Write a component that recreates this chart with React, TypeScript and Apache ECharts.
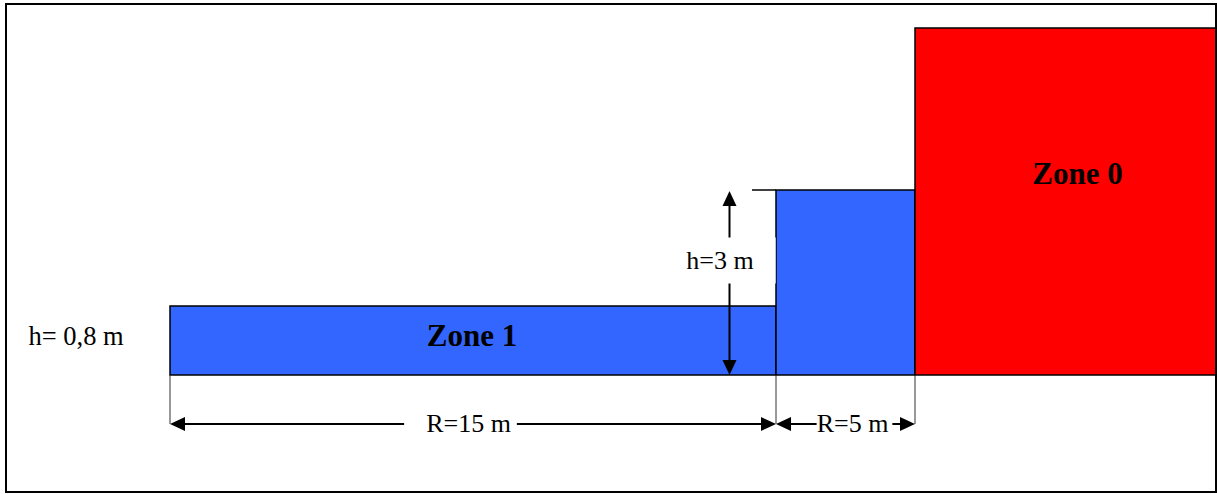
import React, { useEffect, useRef } from "react";
import * as echarts from "echarts";

// Schematic coordinates: x = horizontal distance along the ground (drawing units,
// 0 = start of Zone 1), y = height above ground (drawing units, 0 = ground level).
const zoneNames = ["Zone 1", "", "Zone 0"];
const zoneStart = [0, 606, 745];
const zoneEnd = [606, 745, 1046];
const zoneHeight = [69, 185, 347];

// Dimension arrows (from -> to) and their labels
const dimLabels = ["R=15 m", "R=5 m", "h=3 m"];
const dimFrom = [
  [0, -49],
  [606, -49],
  [559.5, 0],
];
const dimTo = [
  [606, -49],
  [745, -49],
  [559.5, 184],
];

// Extension (witness) lines
const extFrom = [
  [0, 0],
  [606, 0],
  [745, 0],
  [582, 185],
];
const extTo = [
  [0, -49],
  [606, -49],
  [745, -49],
  [606, 185],
];

// Text annotations
const textLabels = ["Zone 1", "Zone 0", "h= 0,8 m", "R=15 m", "R=5 m", "h=3 m"];
const textAnchor = [
  [302, 40],
  [907.5, 202],
  [-141.5, 39],
  [298.5, -48],
  [682.5, -48],
  [550, 114.5],
];

// styles (kept apart from data)
const zoneFill = ["#3366FF", "#3366FF", "#FF0000"];
const SERIF = '"Liberation Serif", "Times New Roman", serif';
const textStyles: any[] = [
  { bold: true, size: 31, align: "center" },
  { bold: true, size: 31, align: "center" },
  { bold: false, size: 26.5, align: "left" },
  { bold: false, size: 26, align: "center", bg: true, pad: [2, 6, 2, 22] },
  { bold: false, size: 26, align: "center", bg: true, pad: [2, 4, 2, 0] },
  { bold: false, size: 26, align: "center", bg: true, pad: [10, 22, 10, 5] },
];

export default function App() {
  const ref = useRef<HTMLDivElement>(null);

  useEffect(() => {
    document.body.style.margin = "0";
    const chart = echarts.init(ref.current!, null, { renderer: "svg" });

    const option: any = {
      animation: false,
      backgroundColor: "#ffffff",
      grid: { left: 0, right: 0, top: 0, bottom: 0, containLabel: false },
      xAxis: { type: "value", min: -170, max: 1047, show: false },
      yAxis: { type: "value", min: -119, max: 375, show: false },
      graphic: [
        {
          type: "rect",
          z: 100,
          shape: { x: 6, y: 4, width: 1210, height: 488 },
          style: { fill: "none", stroke: "#000", lineWidth: 2 },
          silent: true,
        },
      ],
      series: [
        {
          type: "custom",
          name: "zones",
          z: 1,
          silent: true,
          data: zoneStart.map((s, i) => [s, zoneEnd[i], zoneHeight[i]]),
          renderItem: (params: any, api: any) => {
            const i = params.dataIndex;
            const p0 = api.coord([api.value(0), api.value(2)]);
            const p1 = api.coord([api.value(1), 0]);
            return {
              type: "rect",
              shape: { x: p0[0], y: p0[1], width: p1[0] - p0[0], height: p1[1] - p0[1] },
              style: { fill: zoneFill[i], stroke: "#000", lineWidth: 1.5 },
            };
          },
        },
        {
          type: "custom",
          name: "extension",
          z: 2,
          silent: true,
          data: extFrom.map((f, i) => [f[0], f[1], extTo[i][0], extTo[i][1]]),
          renderItem: (params: any, api: any) => {
            const a = api.coord([api.value(0), api.value(1)]);
            const b = api.coord([api.value(2), api.value(3)]);
            const horizontal = Math.abs(a[1] - b[1]) < 0.5;
            return {
              type: "line",
              shape: { x1: a[0], y1: a[1], x2: b[0], y2: b[1] },
              style: { stroke: horizontal ? "#000" : "#333", lineWidth: horizontal ? 1.5 : 1 },
            };
          },
        },
        {
          type: "custom",
          name: "dimensions",
          z: 3,
          silent: true,
          data: dimFrom.map((f, i) => [f[0], f[1], dimTo[i][0], dimTo[i][1]]),
          renderItem: (params: any, api: any) => {
            const a = api.coord([api.value(0), api.value(1)]);
            const b = api.coord([api.value(2), api.value(3)]);
            const dx = b[0] - a[0];
            const dy = b[1] - a[1];
            const len = Math.hypot(dx, dy) || 1;
            const ux = dx / len;
            const uy = dy / len;
            const nx = -uy;
            const ny = ux;
            const L = 15;
            const W = 7;
            const head = (tip: number[], dir: number) => ({
              type: "polygon",
              shape: {
                points: [
                  [tip[0], tip[1]],
                  [tip[0] - dir * ux * L + nx * W, tip[1] - dir * uy * L + ny * W],
                  [tip[0] - dir * ux * L - nx * W, tip[1] - dir * uy * L - ny * W],
                ],
              },
              style: { fill: "#000" },
            });
            return {
              type: "group",
              children: [
                {
                  type: "line",
                  shape: {
                    x1: a[0] + ux * L * 0.5,
                    y1: a[1] + uy * L * 0.5,
                    x2: b[0] - ux * L * 0.5,
                    y2: b[1] - uy * L * 0.5,
                  },
                  style: { stroke: "#000", lineWidth: 2 },
                },
                head(b, 1),
                head(a, -1),
              ],
            };
          },
        },
        {
          type: "custom",
          name: "labels",
          z: 5,
          silent: true,
          data: textAnchor.map((p) => [p[0], p[1]]),
          renderItem: (params: any, api: any) => {
            const i = params.dataIndex;
            const st = textStyles[i];
            const p = api.coord([api.value(0), api.value(1)]);
            const pad = st.pad || [0, 0, 0, 0];
            const xOff = st.align === "center" ? (pad[1] - pad[3]) / 2 : st.align === "left" ? -pad[3] : pad[1];
            const style: any = {
              text: textLabels[i],
              font: `${st.bold ? "bold " : ""}${st.size}px ${SERIF}`,
              fill: "#000",
              align: st.align,
              verticalAlign: "middle",
            };
            if (st.bg) {
              style.backgroundColor = "#ffffff";
              style.padding = pad;
            }
            return { type: "text", x: p[0] + xOff, y: p[1], style };
          },
        },
      ],
    };

    chart.setOption(option);
    return () => chart.dispose();
  }, []);

  return <div ref={ref} style={{ width: 1217, height: 494 }} />;
}
